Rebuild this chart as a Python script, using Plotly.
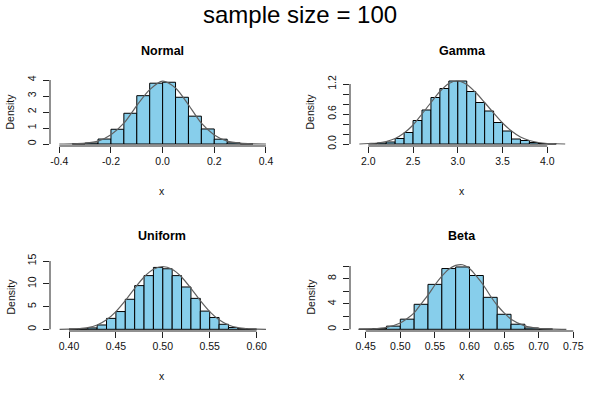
import numpy as np
import plotly.graph_objects as go

# ---------------- data ----------------
main_title = "sample size = 100"
panel_titles = ["Normal", "Gamma", "Uniform", "Beta"]

normal_breaks = [-0.35, -0.30, -0.25, -0.20, -0.15, -0.10, -0.05, 0.00,
                 0.05, 0.10, 0.15, 0.20, 0.25, 0.30, 0.35]
normal_density = [0.01, 0.06, 0.31, 0.92, 1.92, 3.02, 3.80, 3.86,
                  2.92, 1.74, 0.94, 0.30, 0.07, 0.01]
normal_curve_x = [-0.40, -0.35, -0.30, -0.25, -0.20, -0.15, -0.10, -0.05, 0.00,
                  0.05, 0.10, 0.15, 0.20, 0.25, 0.30, 0.35, 0.40]
normal_curve_y = [0.00, 0.01, 0.05, 0.18, 0.58, 1.30, 2.40, 3.40, 3.93,
                  3.50, 2.45, 1.30, 0.57, 0.18, 0.05, 0.01, 0.00]

gamma_breaks = [2.0, 2.1, 2.2, 2.3, 2.4, 2.5, 2.6, 2.7, 2.8, 2.9, 3.0,
                3.1, 3.2, 3.3, 3.4, 3.5, 3.6, 3.7, 3.8, 3.9, 4.0, 4.1]
gamma_density = [0.01, 0.02, 0.04, 0.11, 0.23, 0.47, 0.68, 0.93, 1.11, 1.26,
                 1.26, 1.05, 0.83, 0.66, 0.43, 0.26, 0.10, 0.07, 0.03, 0.01, 0.005]
gamma_curve_x = [1.9, 2.0, 2.1, 2.2, 2.3, 2.4, 2.5, 2.6, 2.7, 2.8, 2.9, 3.0,
                 3.1, 3.2, 3.3, 3.4, 3.5, 3.6, 3.7, 3.8, 3.9, 4.0, 4.1, 4.2]
gamma_curve_y = [0.00, 0.01, 0.02, 0.05, 0.11, 0.22, 0.38, 0.60, 0.83, 1.05, 1.21, 1.26,
                 1.19, 1.03, 0.83, 0.62, 0.42, 0.26, 0.14, 0.07, 0.03, 0.01, 0.005, 0.0]

uniform_breaks = [0.40, 0.41, 0.42, 0.43, 0.44, 0.45, 0.46, 0.47, 0.48, 0.49, 0.50,
                  0.51, 0.52, 0.53, 0.54, 0.55, 0.56, 0.57, 0.58, 0.59, 0.60]
uniform_density = [0.05, 0.1, 0.3, 0.95, 2.4, 3.9, 6.6, 9.6, 11.8, 13.6,
                   13.3, 11.8, 9.3, 6.8, 4.0, 2.6, 1.1, 0.4, 0.15, 0.05]
uniform_curve_x = [0.39, 0.40, 0.41, 0.42, 0.43, 0.44, 0.45, 0.46, 0.47, 0.48, 0.49, 0.50,
                   0.51, 0.52, 0.53, 0.54, 0.55, 0.56, 0.57, 0.58, 0.59, 0.60, 0.61]
uniform_curve_y = [0.0, 0.03, 0.12, 0.35, 0.95, 2.1, 3.9, 6.3, 9.0, 11.5, 13.2, 13.8,
                   13.2, 11.5, 9.0, 6.3, 3.9, 2.1, 0.95, 0.35, 0.12, 0.03, 0.0]

beta_breaks = [0.44, 0.46, 0.48, 0.50, 0.52, 0.54, 0.56, 0.58,
               0.60, 0.62, 0.64, 0.66, 0.68, 0.70, 0.72]
beta_density = [0.02, 0.1, 0.5, 1.6, 3.95, 7.1, 9.6, 9.85, 8.5, 5.05, 2.37, 0.8, 0.2, 0.05]
beta_curve_x = [0.44, 0.46, 0.48, 0.50, 0.51, 0.52, 0.53, 0.54, 0.55, 0.56, 0.57, 0.58,
                0.59, 0.60, 0.61, 0.62, 0.63, 0.64, 0.65, 0.66, 0.68, 0.70, 0.72, 0.74]
beta_curve_y = [0.01, 0.06, 0.3, 1.0, 1.7, 2.6, 4.0, 5.4, 7.0, 8.4, 9.5, 10.1,
                10.2, 9.6, 8.4, 7.0, 5.3, 3.8, 2.6, 1.6, 0.55, 0.15, 0.03, 0.0]

normal_xticks = [-0.4, -0.2, 0.0, 0.2, 0.4]
normal_xlabels = ["-0.4", "-0.2", "0.0", "0.2", "0.4"]
normal_yticks = [0, 1, 2, 3, 4]
normal_ylabels = ["0", "1", "2", "3", "4"]

gamma_xticks = [2.0, 2.5, 3.0, 3.5, 4.0]
gamma_xlabels = ["2.0", "2.5", "3.0", "3.5", "4.0"]
gamma_yticks = [0.0, 0.2, 0.4, 0.6, 0.8, 1.0, 1.2]
gamma_ylabels = ["0.0", "", "", "0.6", "", "", "1.2"]

uniform_xticks = [0.40, 0.45, 0.50, 0.55, 0.60]
uniform_xlabels = ["0.40", "0.45", "0.50", "0.55", "0.60"]
uniform_yticks = [0, 5, 10, 15]
uniform_ylabels = ["0", "5", "10", "15"]

beta_xticks = [0.45, 0.50, 0.55, 0.60, 0.65, 0.70, 0.75]
beta_xlabels = ["0.45", "0.50", "0.55", "0.60", "0.65", "0.70", "0.75"]
beta_yticks = [0, 2, 4, 6, 8, 10]
beta_ylabels = ["0", "", "4", "", "8", ""]

# ---------------- layout / styling ----------------
W, H = 600, 395
FONT = "Liberation Sans, Arial, Helvetica, sans-serif"
BAR_COLOR = "#87CEEB"
CURVE_COLOR = "#606060"

panels = [
    dict(title=panel_titles[0], breaks=normal_breaks, dens=normal_density,
         cx=normal_curve_x, cy=normal_curve_y,
         xt=normal_xticks, xl=normal_xlabels, yt=normal_yticks, yl=normal_ylabels,
         box=(50, 274, 75, 146), xr=[-0.436, 0.4312], yr=[-0.125, 4.3125]),
    dict(title=panel_titles[1], breaks=gamma_breaks, dens=gamma_density,
         cx=gamma_curve_x, cy=gamma_curve_y,
         xt=gamma_xticks, xl=gamma_xlabels, yt=gamma_yticks, yl=gamma_ylabels,
         box=(350, 574, 75, 146), xr=[1.7955, 4.2983], yr=[-0.04, 1.38]),
    dict(title=panel_titles[2], breaks=uniform_breaks, dens=uniform_density,
         cx=uniform_curve_x, cy=uniform_curve_y,
         xt=uniform_xticks, xl=uniform_xlabels, yt=uniform_yticks, yl=uniform_ylabels,
         box=(50, 274, 260, 331), xr=[0.37974, 0.61855], yr=[-0.374, 15.23]),
    dict(title=panel_titles[3], breaks=beta_breaks, dens=beta_density,
         cx=beta_curve_x, cy=beta_curve_y,
         xt=beta_xticks, xl=beta_xlabels, yt=beta_yticks, yl=beta_ylabels,
         box=(350, 574, 260, 331), xr=[0.42731, 0.75101], yr=[-0.27, 10.95]),
]

fig = go.Figure()
shapes = []
annotations = []
layout_axes = {}

for i, p in enumerate(panels, start=1):
    sfx = "" if i == 1 else str(i)
    xa, ya = "x" + sfx, "y" + sfx
    br = np.array(p["breaks"], dtype=float)
    centers = (br[:-1] + br[1:]) / 2
    widths = np.diff(br)
    fig.add_trace(go.Bar(x=centers, y=p["dens"], width=widths,
                         marker=dict(color=BAR_COLOR, line=dict(color="black", width=1)),
                         xaxis=xa, yaxis=ya, showlegend=False, hoverinfo="skip"))
    fig.add_trace(go.Scatter(x=p["cx"], y=p["cy"], mode="lines",
                             line=dict(color=CURVE_COLOR, width=1.2, shape="spline", smoothing=0.8),
                             xaxis=xa, yaxis=ya, showlegend=False, hoverinfo="skip"))
    l, r, t, b = p["box"]
    common = dict(showgrid=False, zeroline=False, showline=False, ticks="outside",
                  ticklen=6, tickwidth=1, tickcolor="#222", automargin=False,
                  tickfont=dict(family=FONT, size=10.5, color="#111"),
                  fixedrange=True)
    layout_axes["xaxis" + sfx] = dict(domain=[l / W, r / W], range=p["xr"], anchor=ya,
                                      tickmode="array", tickvals=p["xt"], ticktext=p["xl"],
                                      tickangle=0, ticklabelstandoff=-1, **common)
    layout_axes["yaxis" + sfx] = dict(domain=[1 - b / H, 1 - t / H], range=p["yr"], anchor=xa,
                                      tickmode="array", tickvals=p["yt"], ticktext=p["yl"],
                                      tickangle=-90, ticklabelstandoff=3, **common)
    # R-style axis lines spanning first to last tick
    shapes.append(dict(type="line", xref=xa, yref=ya + " domain",
                       x0=p["xt"][0], x1=p["xt"][-1], y0=0, y1=0,
                       line=dict(color="#222", width=1)))
    shapes.append(dict(type="line", xref=xa + " domain", yref=ya,
                       x0=0, x1=0, y0=p["yt"][0], y1=p["yt"][-1],
                       line=dict(color="#222", width=1)))
    cx = (l + r) / 2
    annotations.append(dict(text="<b>%s</b>" % p["title"], x=cx / W, y=1 - (t - 24) / H,
                            xref="paper", yref="paper", showarrow=False,
                            xanchor="center", yanchor="middle",
                            font=dict(family=FONT, size=12.5, color="#000")))
    annotations.append(dict(text="x", x=cx / W, y=1 - (b + 45) / H,
                            xref="paper", yref="paper", showarrow=False,
                            xanchor="center", yanchor="middle",
                            font=dict(family=FONT, size=10.5, color="#111")))
    annotations.append(dict(text="Density", x=(l - 40) / W, y=1 - ((t + b) / 2 + 1) / H,
                            xref="paper", yref="paper", showarrow=False, textangle=-90,
                            xanchor="center", yanchor="middle",
                            font=dict(family=FONT, size=10.5, color="#111")))

annotations.append(dict(text=main_title, x=0.5, y=1 - 15 / H, xref="paper", yref="paper",
                        showarrow=False, xanchor="center", yanchor="middle",
                        font=dict(family=FONT, size=24, color="#000")))

fig.update_layout(template="none", width=W, height=H,
                  margin=dict(l=0, r=0, t=0, b=0, pad=0, autoexpand=False),
                  paper_bgcolor="white", plot_bgcolor="white",
                  bargap=0, barmode="overlay", showlegend=False,
                  shapes=shapes, annotations=annotations, **layout_axes)

fig.write_html("out.html", config={"displayModeBar": False, "staticPlot": True},
               post_script="document.body.style.margin='0px';document.body.style.overflow='hidden';")
